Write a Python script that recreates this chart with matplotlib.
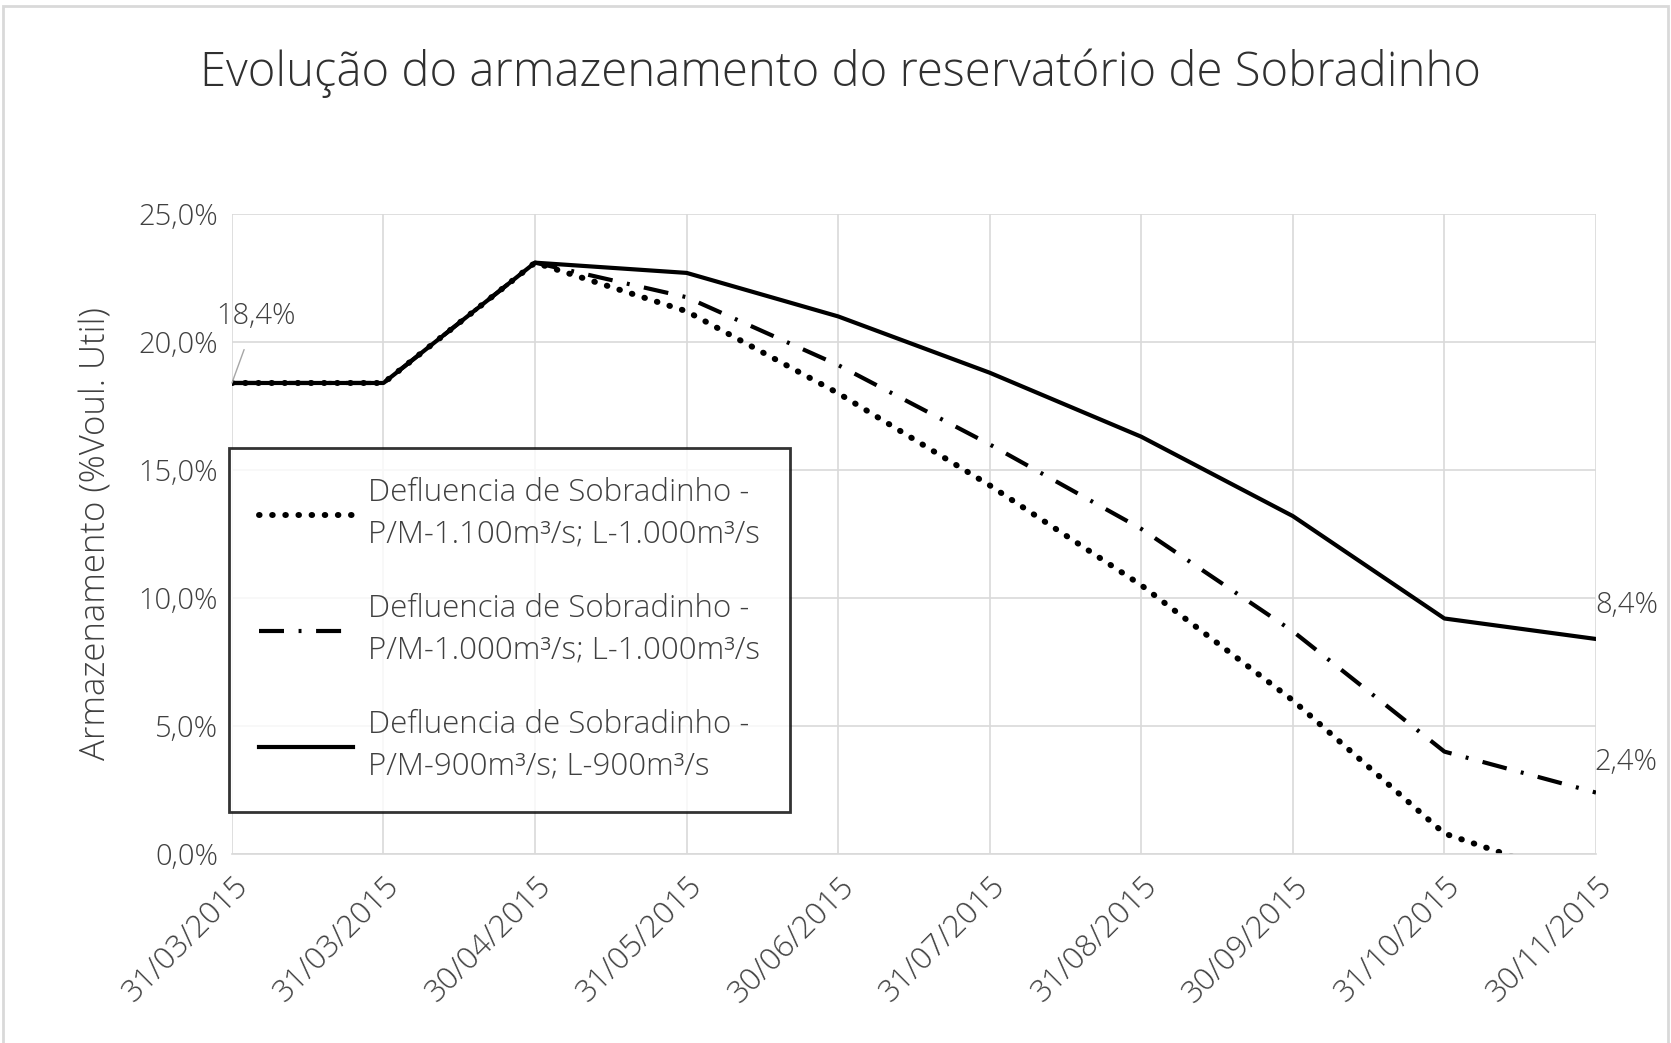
import matplotlib.pyplot as plt
from matplotlib.patches import Rectangle

# dados (% do volume útil)
datas = ["31/03/2015", "31/03/2015", "30/04/2015", "31/05/2015", "30/06/2015",
         "31/07/2015", "31/08/2015", "30/09/2015", "31/10/2015", "30/11/2015"]
def_1100 = [18.4, 18.4, 23.1, 21.2, 18.0, 14.4, 10.5, 6.0, 0.8, -1.2]
def_1000 = [18.4, 18.4, 23.1, 21.75, 19.1, 16.0, 12.7, 8.7, 4.0, 2.4]
def_900 = [18.4, 18.4, 23.1, 22.7, 21.0, 18.8, 16.3, 13.2, 9.2, 8.4]

lab_1100 = "Defluencia de Sobradinho -\nP/M-1.100m³/s; L-1.000m³/s"
lab_1000 = "Defluencia de Sobradinho -\nP/M-1.000m³/s; L-1.000m³/s"
lab_900 = "Defluencia de Sobradinho -\nP/M-900m³/s; L-900m³/s"

plt.rcParams["font.family"] = ["Open Sans", "DejaVu Sans"]
txt = "#404040"

fig = plt.figure(figsize=(16.71, 10.43), dpi=100)
fig.patches.append(Rectangle((0.002, -0.01), 0.996, 1.004, transform=fig.transFigure,
                             fill=False, edgecolor="#d9d9d9", lw=2))
ax = fig.add_axes([0.1388, 0.1812, 0.8163, 0.6136])

x = list(range(len(datas)))
ax.plot(x, def_1100, color="black", lw=4.3, linestyle=(0, (0.1, 2.1)),
        dash_capstyle="round", label=lab_1100)
ax.plot(x, def_1000, color="black", lw=3, linestyle=(0, (6, 3.5, 0.7, 3.5)), label=lab_1000)
ax.plot(x, def_900, color="black", lw=3, label=lab_900)

ax.set_xlim(0, len(datas) - 1)
ax.set_ylim(0, 25)
ax.set_xticks(x)
ax.set_xticklabels(datas, rotation=45, ha="right", rotation_mode="anchor",
                   fontsize=22.5, color=txt, fontweight="light")
ax.set_yticks([0, 5, 10, 15, 20, 25])
ax.set_yticklabels([f"{v:.1f}%".replace(".", ",") for v in [0, 5, 10, 15, 20, 25]],
                   fontsize=21, color=txt, fontweight="light")
ax.tick_params(axis="both", length=0, pad=10)
ax.tick_params(axis="x", pad=12)
ax.grid(True, color="#d9d9d9", lw=1.2)
ax.set_axisbelow(True)
for s in ["top", "right", "left"]:
    ax.spines[s].set_visible(False)
ax.spines["bottom"].set_color("#d9d9d9")
ax.spines["bottom"].set_linewidth(1.2)

ax.set_ylabel("Armazenamento (%Voul. Util)", fontsize=25, color=txt,
              fontweight="light", labelpad=18)
fig.suptitle("Evolução do armazenamento do reservatório de Sobradinho",
             x=0.503, y=0.93, va="center", fontsize=34, color="#303030",
             fontweight="light")

# rótulos dos valores
ax.annotate("18,4%", xy=(0, def_900[0]), xytext=(0.16, 21.0), fontsize=21,
            color=txt, ha="center", va="center", fontweight="light",
            arrowprops=dict(arrowstyle="-", color="#a6a6a6", lw=1, shrinkA=12, shrinkB=0))
ax.annotate("8,4%", xy=(9, def_900[-1]), xytext=(9.2, 9.7), fontsize=21,
            color=txt, ha="center", va="center", fontweight="light", annotation_clip=False)
ax.annotate("2,4%", xy=(9, def_1000[-1]), xytext=(9.2, 3.6), fontsize=21,
            color=txt, ha="center", va="center", fontweight="light", annotation_clip=False)

leg = ax.legend(loc="upper left", bbox_to_anchor=(-0.002, 0.635), borderaxespad=0,
                fontsize=22.5, frameon=True, fancybox=False, edgecolor="black",
                handlelength=3.0, labelspacing=1.35, borderpad=0.95, handletextpad=0.5)
leg.get_frame().set_linewidth(2)
for t in leg.get_texts():
    t.set_color(txt)
    t.set_fontweight("light")
    t.set_linespacing(1.4)

fig.savefig("out.png", dpi=100)
